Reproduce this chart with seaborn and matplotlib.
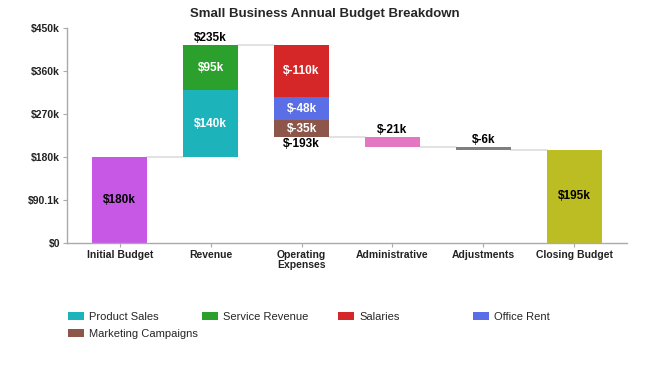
import matplotlib
matplotlib.use("Agg")
import matplotlib.pyplot as plt
import seaborn as sns
import numpy as np
from matplotlib.patches import Patch

sns.set_theme(style="white")
plt.rcParams['font.family'] = ['Liberation Sans', 'DejaVu Sans']

categories = ["Initial Budget", "Revenue", "Operating\nExpenses", "Administrative", "Adjustments", "Closing Budget"]
initial_budget = 180
revenue_names = ["Product Sales", "Service Revenue"]
revenue_values = [140, 95]
opex_names = ["Salaries", "Office Rent", "Marketing Campaigns"]
opex_values = [-110, -48, -35]
administrative = -21
adjustments = -6
closing_budget = 195
y_ticks = [0, 90.1, 180.2, 270.3, 360.4, 450.5]
y_tick_labels = ["$0", "$90.1k", "$180k", "$270k", "$360k", "$450k"]

colors = {
    "Initial Budget": "#c758e6",
    "Product Sales": "#1db3bb",
    "Service Revenue": "#2ca02c",
    "Salaries": "#d62728",
    "Office Rent": "#5a6ee6",
    "Marketing Campaigns": "#8c564b",
    "Administrative": "#e377c2",
    "Adjustments": "#7f7f7f",
    "Closing Budget": "#bcbd22",
}

fig = plt.figure(figsize=(6.5, 3.67), dpi=100)
ax = fig.add_axes([67/650, 1-243/367, 560/650, 215/367])
W = 0.6
conn_color = "#dddddd"
bar_kw = dict(width=W, edgecolor="none", linewidth=0)
lab_kw = dict(ha="center", va="center", fontsize=8.5, fontweight="bold")
out_kw = dict(ha="center", fontsize=8.5, fontweight="bold", color="black")

# Initial budget
ax.bar(0, initial_budget, color=colors["Initial Budget"], **bar_kw)
ax.text(0, initial_budget/2, f"${initial_budget}k", color="black", **lab_kw)
level = initial_budget

# Revenue stack
ax.plot([0 + W/2, 1 - W/2], [level, level], color=conn_color, lw=1.2, zorder=0)
base = level
for n, v in zip(revenue_names, revenue_values):
    ax.bar(1, v, bottom=base, color=colors[n], **bar_kw)
    ax.text(1, base + v/2, f"${v}k", color="white", **lab_kw)
    base += v
ax.text(1, base + 1.5, f"${sum(revenue_values)}k", va="bottom", **out_kw)
level = base

# Operating expenses stack
ax.plot([1 + W/2, 2 - W/2], [level, level], color=conn_color, lw=1.2, zorder=0)
top = level
for n, v in zip(opex_names, opex_values):
    ax.bar(2, v, bottom=top, color=colors[n], **bar_kw)
    ax.text(2, top + v/2, f"$-{abs(v)}k", color="white", **lab_kw)
    top += v
ax.text(2, top - 2, f"$-{abs(sum(opex_values))}k", va="top", **out_kw)
level = top

# Administrative
ax.plot([2 + W/2, 3 - W/2], [level, level], color=conn_color, lw=1.2, zorder=0)
ax.bar(3, administrative, bottom=level, color=colors["Administrative"], **bar_kw)
ax.text(3, level + 2, f"$-{abs(administrative)}k", va="bottom", **out_kw)
level += administrative

# Adjustments
ax.plot([3 + W/2, 4 - W/2], [level, level], color=conn_color, lw=1.2, zorder=0)
ax.bar(4, adjustments, bottom=level, color=colors["Adjustments"], **bar_kw)
ax.text(4, level + 2, f"$-{abs(adjustments)}k", va="bottom", **out_kw)
level += adjustments

# Closing
ax.plot([4 + W/2, 5 - W/2], [level, level], color=conn_color, lw=1.2, zorder=0)
ax.bar(5, closing_budget, color=colors["Closing Budget"], **bar_kw)
ax.text(5, closing_budget/2, f"${closing_budget}k", color="black", **lab_kw)

ax.set_xlim(-0.58, 5.58)
ax.set_ylim(0, 450.5)
ax.set_xticks(range(len(categories)))
ax.set_xticklabels(categories, fontsize=7.5, fontweight="bold", color="#222222", linespacing=1.05)
ax.set_yticks(y_ticks)
ax.set_yticklabels(y_tick_labels, fontsize=7.5, fontweight="bold", color="#222222")
ax.tick_params(axis="both", length=3, width=0.8, color="#aaaaaa", pad=2, left=True, bottom=True)
for s in ["top", "right"]:
    ax.spines[s].set_visible(False)
for s in ["left", "bottom"]:
    ax.spines[s].set_color("#aaaaaa")
    ax.spines[s].set_linewidth(1)

fig.text(0.5, 1 - 14/367, "Small Business Annual Budget Breakdown", ha="center", va="center", fontsize=9.5, fontweight="bold")

legend_names = revenue_names + opex_names
legend_pos = [(68, 317), (202, 317), (338, 317), (473, 317), (68, 334)]
for n, (px, py) in zip(legend_names, legend_pos):
    fig.legend([Patch(facecolor=colors[n], edgecolor="none")], [n], loc="center left",
               bbox_to_anchor=(px/650, 1 - py/367), frameon=False, fontsize=8, borderpad=0,
               handlelength=1.45, handleheight=0.72, handletextpad=0.45, borderaxespad=0)

fig.savefig("out.png", dpi=100)
